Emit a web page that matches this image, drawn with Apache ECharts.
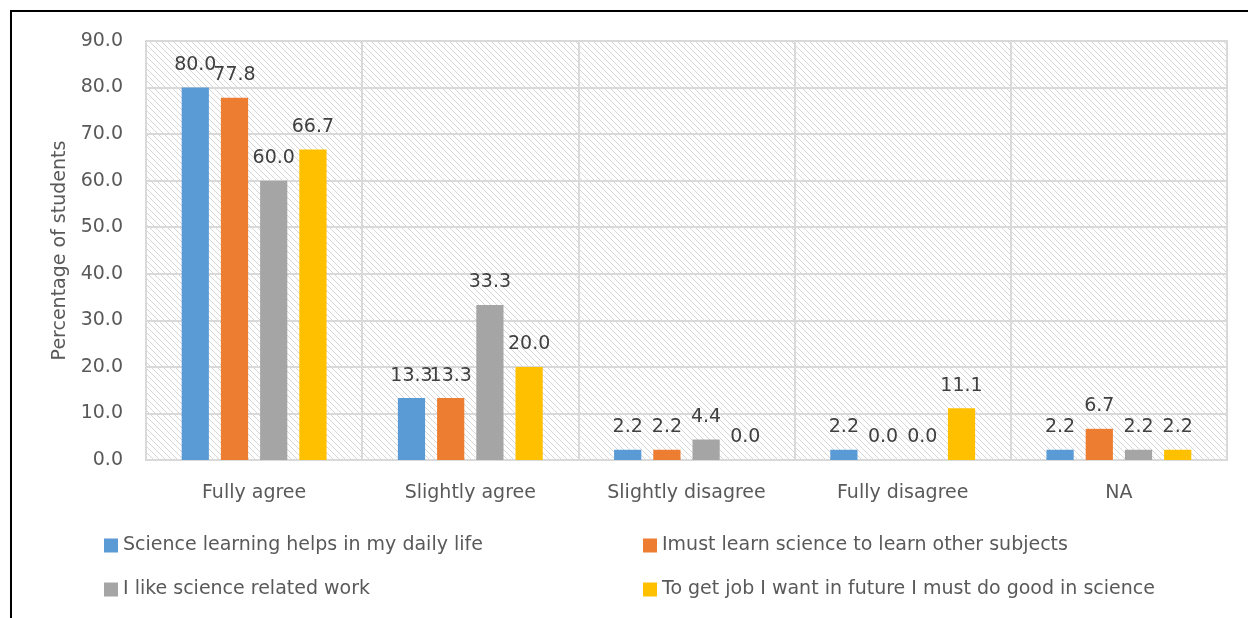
<!DOCTYPE html>
<html>
<head>
<meta charset="utf-8">
<script src="https://cdn.jsdelivr.net/npm/echarts@6/dist/echarts.min.js"></script>
<style>
  html, body { margin: 0; padding: 0; background: #fff; }
  #chart { width: 1248px; height: 618px; }
</style>
</head>
<body>
<div id="chart"></div>
<script>
var categories = ['Fully agree', 'Slightly agree', 'Slightly disagree', 'Fully disagree', 'NA']
var seriesNames = [
  'Science learning helps in my daily life',
  'Imust learn science to learn other subjects',
  'I like science related work',
  'To get job I want in future I must do good in science'
]
var dailyLife = [80.0, 13.3, 2.2, 2.2, 2.2]
var otherSubjects = [77.8, 13.3, 2.2, 0.0, 6.7]
var relatedWork = [60.0, 33.3, 4.4, 0.0, 2.2]
var futureJob = [66.7, 20.0, 0.0, 11.1, 2.2]
var colors = ['#5b9bd5', '#ed7d31', '#a5a5a5', '#ffc000']

// hatched plot background
var hatch = document.createElement('canvas')
hatch.width = 6
hatch.height = 6
var hc = hatch.getContext('2d')
hc.fillStyle = '#ffffff'
hc.fillRect(0, 0, 6, 6)
hc.strokeStyle = '#d6d6d6'
hc.lineWidth = 1
hc.beginPath()
hc.moveTo(-1, -1); hc.lineTo(7, 7)
hc.moveTo(-1, 5); hc.lineTo(1, 7)
hc.moveTo(5, -1); hc.lineTo(7, 1)
hc.stroke()

var font = "'DejaVu Sans', sans-serif"
var fsize = 19

function makeSeries (i, data) {
  return {
    name: seriesNames[i],
    type: 'bar',
    data: data,
    barGap: '44%',
    barCategoryGap: '33%',
    itemStyle: { color: colors[i] },
    label: {
      show: true,
      position: 'top',
      distance: 13,
      color: '#404040',
      fontSize: fsize,
      fontFamily: font,
      formatter: function (p) { return p.value.toFixed(1) }
    }
  }
}

function makeLegend (i, left, top) {
  return {
    data: [seriesNames[i]],
    left: left,
    top: top,
    itemWidth: 14,
    itemHeight: 14,
    icon: 'rect',
    padding: 0,
    textStyle: { color: '#595959', fontSize: fsize, fontFamily: font }
  }
}

var option = {
  animation: false,
  grid: {
    left: 146,
    right: 21,
    top: 41,
    bottom: 158,
    show: true,
    backgroundColor: { image: hatch, repeat: 'repeat' },
    borderColor: '#d9d9d9',
    borderWidth: 2
  },
  legend: [
    makeLegend(0, 104, 536),
    makeLegend(1, 643, 536),
    makeLegend(2, 104, 580),
    makeLegend(3, 643, 580)
  ],
  xAxis: {
    type: 'category',
    data: categories,
    axisLine: { lineStyle: { color: '#d9d9d9', width: 2 } },
    axisTick: { show: false },
    splitLine: { show: true, lineStyle: { color: '#d9d9d9', width: 2 } },
    axisLabel: { color: '#595959', fontSize: fsize, fontFamily: font, margin: 24 }
  },
  yAxis: {
    type: 'value',
    min: 0,
    max: 90,
    interval: 10,
    name: 'Percentage of students',
    nameLocation: 'middle',
    nameGap: 76,
    nameTextStyle: { color: '#595959', fontSize: fsize, fontFamily: font },
    axisLine: { show: false },
    axisTick: { show: false },
    splitLine: { lineStyle: { color: '#d9d9d9', width: 2 } },
    axisLabel: {
      color: '#595959',
      fontSize: fsize,
      fontFamily: font,
      margin: 23,
      formatter: function (v) { return v.toFixed(1) }
    }
  },
  graphic: [
    { type: 'line', shape: { x1: 10, y1: 11, x2: 1248, y2: 11 }, style: { stroke: '#000', lineWidth: 2 } },
    { type: 'line', shape: { x1: 11, y1: 11, x2: 11, y2: 618 }, style: { stroke: '#000', lineWidth: 2 } }
  ],
  series: [
    makeSeries(0, dailyLife),
    makeSeries(1, otherSubjects),
    makeSeries(2, relatedWork),
    makeSeries(3, futureJob)
  ]
}

var myChart = echarts.init(document.getElementById('chart'))
myChart.setOption(option)
</script>
</body>
</html>
